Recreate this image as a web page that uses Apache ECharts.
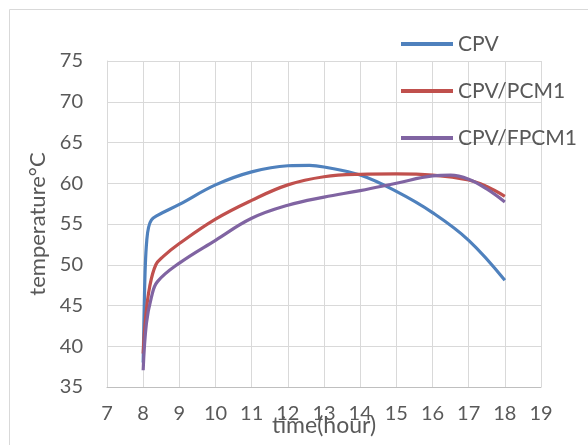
<!DOCTYPE html>
<html>
<head>
<meta charset="utf-8">
<script src="https://cdn.jsdelivr.net/npm/echarts@6/dist/echarts.min.js"></script>
<style>html,body{margin:0;padding:0;background:#fff}#c{width:588px;height:445px}</style>
</head>
<body>
<div id="c"></div>
<script>
const seriesNames = ['CPV', 'CPV/PCM1', 'CPV/FPCM1'];
const timeCPV = [8, 8.03, 8.06, 8.1, 8.15, 8.23, 8.37, 9, 10, 11, 12, 12.6, 13, 14, 15, 16, 17, 18];
const tempCPV = [38, 45, 50, 53, 54.6, 55.5, 56.0, 57.4, 59.8, 61.4, 62.15, 62.2, 62.0, 61.0, 59.0, 56.4, 53.0, 48.1];
const timePCM1 = [8, 8.07, 8.18, 8.35, 8.55, 9, 10, 11, 12, 13, 14, 15, 16, 17, 17.5, 18];
const tempPCM1 = [39.1, 43.6, 47.3, 50.0, 51.0, 52.6, 55.6, 57.9, 59.8, 60.8, 61.1, 61.15, 61.0, 60.4, 59.6, 58.4];
const timeFPCM1 = [8, 8.09, 8.23, 8.39, 9, 10, 11, 12, 13, 14, 15, 16, 16.5, 17, 17.5, 18];
const tempFPCM1 = [37.05, 42.8, 46.05, 47.9, 50.2, 53.0, 55.7, 57.3, 58.3, 59.1, 60.0, 60.9, 61.0, 60.5, 59.3, 57.7];
const colors = ['#4F81BD', '#C0504D', '#8064A2'];

const zip = (xs, ys) => xs.map((x, i) => [x, ys[i]]);
const txt = '#595959';
const font = 'Lato';
const chart = echarts.init(document.getElementById('c'));
chart.setOption({
  animation: false,
  textStyle: { fontFamily: font },
  graphic: [{
    type: 'rect', left: 7, top: 7, silent: true,
    shape: { width: 620, height: 480 },
    style: { fill: 'none', stroke: '#D9D9D9', lineWidth: 1 }
  }],
  grid: { left: 107, right: 47, top: 61, bottom: 58, containLabel: false, outerBoundsMode: 'none' },
  legend: {
    orient: 'vertical', left: 396, top: 27,
    itemWidth: 52, itemHeight: 4, itemGap: 23, icon: 'rect',
    textStyle: { color: txt, fontSize: 21, fontFamily: font, lineHeight: 24 },
    data: seriesNames
  },
  xAxis: {
    type: 'value', min: 7, max: 19, interval: 1,
    name: 'time(hour)', nameLocation: 'middle', nameGap: 27, nameMoveOverlap: false,
    nameTextStyle: { color: txt, fontSize: 23, fontFamily: font },
    axisLine: { show: true, lineStyle: { color: '#BFBFBF', width: 1 } },
    axisTick: { show: false },
    axisLabel: { color: txt, fontSize: 20, margin: 17, fontFamily: font },
    splitLine: { show: true, lineStyle: { color: '#D9D9D9', width: 1 } }
  },
  yAxis: {
    type: 'value', min: 35, max: 75, interval: 5,
    name: 'temperature°C', nameLocation: 'middle', nameGap: 58, nameMoveOverlap: false,
    nameTextStyle: { color: txt, fontSize: 22, fontFamily: font },
    axisLine: { show: true, lineStyle: { color: '#D9D9D9', width: 1 } },
    axisTick: { show: false },
    axisLabel: { color: txt, fontSize: 20, margin: 24, fontFamily: font },
    splitLine: { show: true, lineStyle: { color: '#D9D9D9', width: 1 } }
  },
  series: [
    { name: seriesNames[0], data: zip(timeCPV, tempCPV) },
    { name: seriesNames[1], data: zip(timePCM1, tempPCM1) },
    { name: seriesNames[2], data: zip(timeFPCM1, tempFPCM1) }
  ].map((s, i) => Object.assign(s, {
    type: 'line', smooth: 0.4, showSymbol: false, symbol: 'none',
    color: colors[i], lineStyle: { color: colors[i], width: 3.2 }
  }))
});
</script>
</body>
</html>
